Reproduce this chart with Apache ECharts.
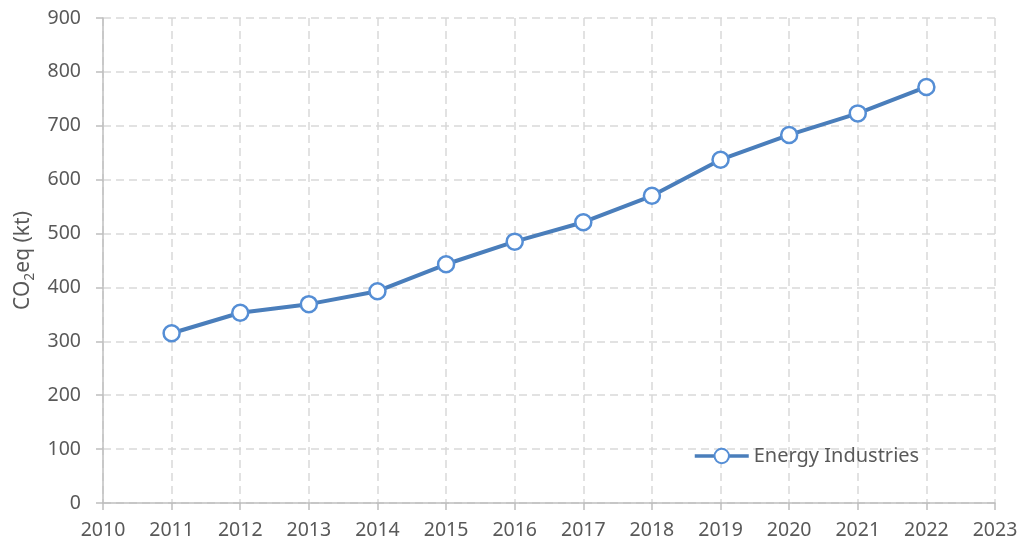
<!DOCTYPE html>
<html>
<head>
<meta charset="utf-8">
<script src="https://cdn.jsdelivr.net/npm/echarts@6/dist/echarts.min.js"></script>
<style>
    html, body { margin: 0; padding: 0; background: #fff; }
    #main { width: 1025px; height: 546px; }
</style>
</head>
<body>
<div id="main"></div>
<script>
//年份与排放量 (kt CO2eq)
var years = [2011, 2012, 2013, 2014, 2015, 2016, 2017, 2018, 2019, 2020, 2021, 2022];
var energyIndustries = [315, 353, 369, 393, 443, 485, 521, 570, 637, 683, 723, 772];
var seriesName = "Energy Industries";

var textColor = "#595959";
var axisColor = "#bfbfbf";
var gridColor = "#d9d9d9";
var fontName = "Noto Sans";

var seriesData = [];
for (var i = 0; i < years.length; i++) {
    seriesData.push([years[i], energyIndustries[i]]);
}

var myChart = echarts.init(document.getElementById('main'));

var option = {
    animation: false,
    grid: { left: 103, right: 30, top: 18, bottom: 43, containLabel: false, outerBoundsMode: 'none' },
    legend: {
        left: 688,
        top: 441,
        itemWidth: 54,
        itemHeight: 18,
        itemGap: 4,
        lineStyle: { width: 3.5 },
        textStyle: { color: textColor, fontSize: 20, fontFamily: fontName },
        data: [seriesName]
    },
    xAxis: {
        type: 'value',
        min: 2010,
        max: 2023,
        interval: 1,
        axisLine: { show: true, lineStyle: { color: axisColor, width: 1.5 } },
        axisTick: { show: true, length: 7, lineStyle: { color: axisColor, width: 1.5 } },
        axisLabel: {
            color: textColor, fontSize: 19.5, fontFamily: fontName, margin: 17,
            formatter: function (v) { return String(v); }
        },
        splitLine: { show: true, lineStyle: { color: gridColor, type: [8, 5], width: 1.5 } }
    },
    yAxis: {
        type: 'value',
        min: 0,
        max: 900,
        interval: 100,
        name: '{a|CO}{sub|2}{a|eq (kt)}',
        nameLocation: 'middle',
        nameGap: 66,
        nameRotate: 90,
        nameTextStyle: {
            rich: {
                a: { color: textColor, fontSize: 21, fontFamily: fontName, lineHeight: 28 },
                sub: { color: textColor, fontSize: 14, fontFamily: fontName, lineHeight: 28, verticalAlign: 'bottom', padding: [10, 0, 0, 0] }
            }
        },
        axisLine: { show: true, lineStyle: { color: axisColor, width: 1.5 } },
        axisTick: { show: true, length: 7, lineStyle: { color: axisColor, width: 1.5 } },
        axisLabel: { color: textColor, fontSize: 19.5, fontFamily: fontName, margin: 22 },
        splitLine: { show: true, lineStyle: { color: gridColor, type: [8, 5], width: 1.5 } }
    },
    series: [
        {
            name: seriesName,
            type: 'line',
            data: seriesData,
            symbol: 'circle',
            symbolSize: 16,
            lineStyle: { color: '#4a7ebb', width: 4 },
            itemStyle: { color: '#ffffff', borderColor: '#558ed5', borderWidth: 2.5 }
        }
    ]
};

myChart.setOption(option);
</script>
</body>
</html>
